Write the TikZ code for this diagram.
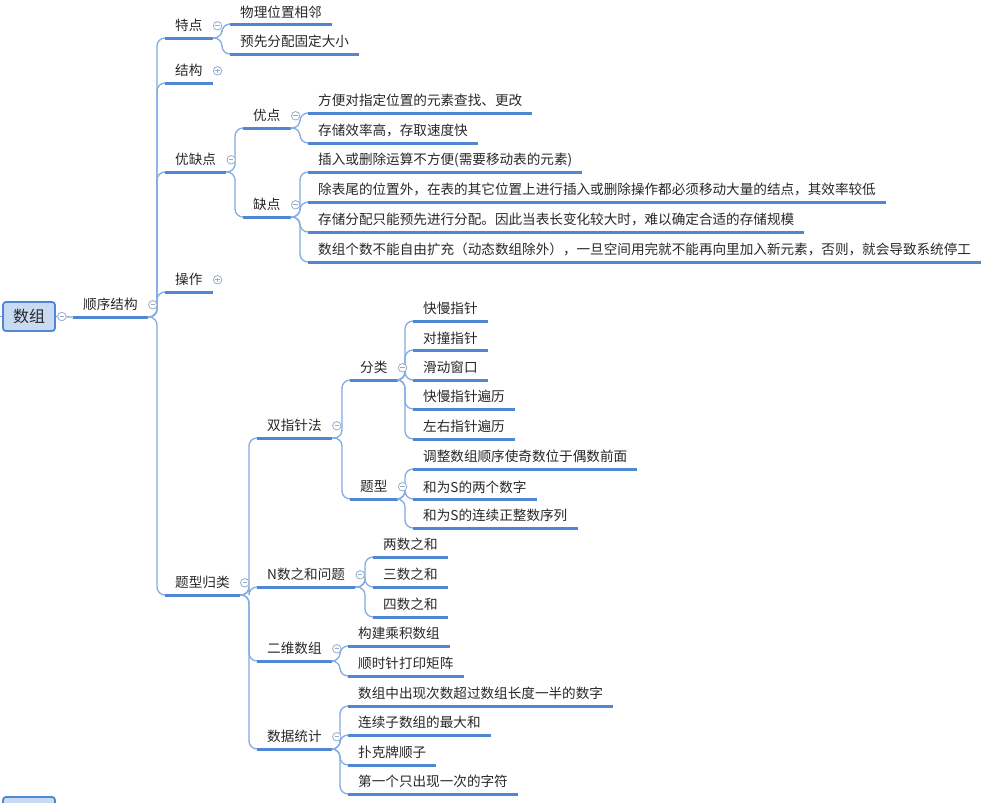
\documentclass[tikz,border=0pt]{standalone}
\usepackage{fontspec}
\setmainfont{Noto Sans CJK SC}
\usetikzlibrary{calc}
\definecolor{ulc}{RGB}{80,135,212}
\definecolor{cnc}{RGB}{130,172,228}
\definecolor{cic}{RGB}{150,172,205}
\definecolor{rootfill}{RGB}{200,219,243}
\definecolor{txt}{RGB}{40,40,40}
\tikzset{
 topic/.style={anchor=south west, inner xsep=10pt, inner ysep=0pt, minimum height=24pt, font=\fontsize{13.6}{16}\selectfont, text=txt},
 uline/.style={draw=ulc, line width=3pt},
 conn/.style={draw=cnc, line width=1.3pt, rounded corners=8pt},
 collapse/.style={circle, draw=cic, fill=white, line width=0.8pt, minimum size=8.5pt, inner sep=0pt},
 rootbox/.style={draw=ulc, fill=rootfill, line width=1.8pt, rounded corners=3pt, minimum width=52pt, minimum height=29pt, font=\fontsize{16}{19}\selectfont, text=txt, inner sep=0pt},
}
\newcommand\mmtopic[4]{\node[topic] (#1) at (#2,#3) {#4}; \draw[uline] (#1.south west) -- (#1.south east);}
\newcommand\mmlink[2]{\draw[conn] (#1.south east) -| ($(#2.south west)+(-8,0)$) -- (#2.south west);}
\newcommand\mmminus[1]{\node[collapse] (#1-c) at ($(#1.east)+(5,0)$) {}; \draw[cic, line width=0.8pt] ($(#1-c.center)+(-2.2,0)$) -- ($(#1-c.center)+(2.2,0)$);}
\newcommand\mmplus[1]{\node[collapse] (#1-c) at ($(#1.east)+(5,0)$) {}; \draw[cic, line width=0.8pt] ($(#1-c.center)+(-2.2,0)$) -- ($(#1-c.center)+(2.2,0)$) ($(#1-c.center)+(0,-2.2)$) -- ($(#1-c.center)+(0,2.2)$);}
\begin{document}
\begin{tikzpicture}[x=1pt,y=-1pt]
\useasboundingbox (0,0) rectangle (988,803);
\clip (0,0) rectangle (988,803);
\fill[white] (0,0) rectangle (988,803);
% root
\node[rootbox] (root) at (29,316.5) {数组};
\node[rootbox] (root2) at (29,811.5) {};
\coordinate (lin) at (-2,316.5);
% level 1
\mmtopic{seq}{73}{317}{顺序结构}
% level 2
\mmtopic{td}{165}{38}{特点}
\mmtopic{jg}{165}{83}{结构}
\mmtopic{yqd}{165}{172}{优缺点}
\mmtopic{cz}{165}{292}{操作}
\mmtopic{txgl}{165}{595}{题型归类}
% 特点
\mmtopic{td1}{230}{24}{物理位置相邻}
\mmtopic{td2}{230}{54}{预先分配固定大小}
% 优缺点
\mmtopic{yd}{243}{128}{优点}
\mmtopic{qd}{243}{217}{缺点}
\mmtopic{yd1}{308}{113}{方便对指定位置的元素查找、更改}
\mmtopic{yd2}{308}{143}{存储效率高，存取速度快}
\mmtopic{qd1}{308}{172}{插入或删除运算不方便(需要移动表的元素)}
\mmtopic{qd2}{308}{202}{除表尾的位置外，在表的其它位置上进行插入或删除操作都必须移动大量的结点，其效率较低}
\mmtopic{qd3}{308}{232}{存储分配只能预先进行分配。因此当表长变化较大时，难以确定合适的存储规模}
\mmtopic{qd4}{308}{262}{数组个数不能自由扩充（动态数组除外），一旦空间用完就不能再向里加入新元素，否则，就会导致系统停工}
% 题型归类
\mmtopic{szz}{257}{438}{双指针法}
\mmtopic{nsum}{257}{587}{N数之和问题}
\mmtopic{ewsz}{257}{661}{二维数组}
\mmtopic{sjtj}{257}{749}{数据统计}
% 双指针法
\mmtopic{fl}{350}{380}{分类}
\mmtopic{tx}{350}{499}{题型}
\mmtopic{fl1}{413}{321}{快慢指针}
\mmtopic{fl2}{413}{350}{对撞指针}
\mmtopic{fl3}{413}{380}{滑动窗口}
\mmtopic{fl4}{413}{409}{快慢指针遍历}
\mmtopic{fl5}{413}{439}{左右指针遍历}
\mmtopic{tx1}{413}{469}{调整数组顺序使奇数位于偶数前面}
\mmtopic{tx2}{413}{499}{和为S的两个数字}
\mmtopic{tx3}{413}{528}{和为S的连续正整数序列}
% N数之和
\mmtopic{ns1}{373}{557}{两数之和}
\mmtopic{ns2}{373}{587}{三数之和}
\mmtopic{ns3}{373}{617}{四数之和}
% 二维数组
\mmtopic{ew1}{348}{646}{构建乘积数组}
\mmtopic{ew2}{348}{676}{顺时针打印矩阵}
% 数据统计
\mmtopic{sj1}{348}{706}{数组中出现次数超过数组长度一半的数字}
\mmtopic{sj2}{348}{735}{连续子数组的最大和}
\mmtopic{sj3}{348}{765}{扑克牌顺子}
\mmtopic{sj4}{348}{794}{第一个只出现一次的字符}
% connectors
\draw[conn] (lin) -- (root.west);
\draw[conn] (root.east) -- (seq.south west);
\foreach \c in {td,jg,yqd,cz,txgl} {\mmlink{seq}{\c}}
\foreach \c in {td1,td2} {\mmlink{td}{\c}}
\foreach \c in {yd,qd} {\mmlink{yqd}{\c}}
\foreach \c in {yd1,yd2} {\mmlink{yd}{\c}}
\foreach \c in {qd1,qd2,qd3,qd4} {\mmlink{qd}{\c}}
\foreach \c in {szz,nsum,ewsz,sjtj} {\mmlink{txgl}{\c}}
\foreach \c in {fl,tx} {\mmlink{szz}{\c}}
\foreach \c in {fl1,fl2,fl3,fl4,fl5} {\mmlink{fl}{\c}}
\foreach \c in {tx1,tx2,tx3} {\mmlink{tx}{\c}}
\foreach \c in {ns1,ns2,ns3} {\mmlink{nsum}{\c}}
\foreach \c in {ew1,ew2} {\mmlink{ewsz}{\c}}
\foreach \c in {sj1,sj2,sj3,sj4} {\mmlink{sjtj}{\c}}
% collapse markers
\node[collapse] (root-c) at ($(root.east)+(6,0)$) {};
\draw[cic, line width=0.8pt] ($(root-c.center)+(-2.2,0)$) -- ($(root-c.center)+(2.2,0)$);
\mmminus{seq}
\mmminus{td}
\mmplus{jg}
\mmminus{yqd}
\mmplus{cz}
\mmminus{txgl}
\mmminus{yd}
\mmminus{qd}
\mmminus{szz}
\mmminus{nsum}
\mmminus{ewsz}
\mmminus{sjtj}
\mmminus{fl}
\mmminus{tx}
\end{tikzpicture}
\end{document}
